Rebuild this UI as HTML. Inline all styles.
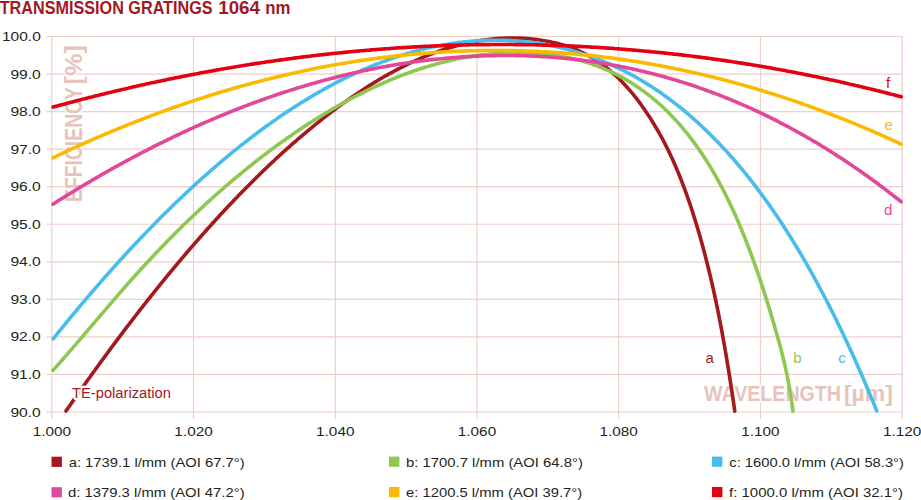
<!DOCTYPE html>
<html><head><meta charset="utf-8"><style>
html,body{margin:0;padding:0;background:#fff;}
body{width:921px;height:500px;overflow:hidden;position:relative;}
svg{position:absolute;left:0;top:0;display:block;}
text{font-family:"Liberation Sans",sans-serif;}
</style></head><body>
<svg width="921" height="500" viewBox="0 0 921 500">
<defs><clipPath id="pc"><rect x="0" y="20" width="921" height="392.6"/></clipPath></defs>
<g font-size="18.4" font-weight="bold" fill="#a01a1f"><text x="-0.3" y="13.9" textLength="212.9" lengthAdjust="spacingAndGlyphs">TRANSMISSION GRATINGS</text><text x="218.2" y="13.9" textLength="41.8" lengthAdjust="spacingAndGlyphs">1064</text><text x="265.3" y="13.9" textLength="25.2" lengthAdjust="spacingAndGlyphs">nm</text></g>
<path d="M46.2 36.50H902.20 M46.2 74.05H902.20 M46.2 111.60H902.20 M46.2 149.15H902.20 M46.2 186.70H902.20 M46.2 224.25H902.20 M46.2 261.80H902.20 M46.2 299.35H902.20 M46.2 336.90H902.20 M46.2 374.45H902.20 M46.2 412.00H902.20 M51.80 36.50V419 M193.53 36.50V419 M335.27 36.50V419 M477.00 36.50V419 M618.73 36.50V419 M760.47 36.50V419 M902.20 36.50V419" stroke="#eed0c9" stroke-width="1.2" fill="none"/>
<g font-weight="bold" fill="#e6c4bc" stroke="#fff" stroke-width="2.6" paint-order="stroke" font-size="23.5"><g transform="translate(82.3,200) rotate(-90)"><text x="-2" y="0" textLength="115" lengthAdjust="spacingAndGlyphs">EFFICIENCY</text><text x="115.6" y="0" textLength="39.4" lengthAdjust="spacingAndGlyphs">[%]</text></g><text x="704" y="401" font-size="21.5" textLength="137" lengthAdjust="spacingAndGlyphs">WAVELENGTH</text><text x="843.9" y="401" font-size="21.5" textLength="48.9" lengthAdjust="spacingAndGlyphs">[µm]</text></g>
<text x="40.8" y="41.00" font-size="12.5" fill="#231f20" text-anchor="end" textLength="38.8" lengthAdjust="spacingAndGlyphs">100.0</text>
<text x="40.8" y="78.55" font-size="12.5" fill="#231f20" text-anchor="end" textLength="30.4" lengthAdjust="spacingAndGlyphs">99.0</text>
<text x="40.8" y="116.10" font-size="12.5" fill="#231f20" text-anchor="end" textLength="30.4" lengthAdjust="spacingAndGlyphs">98.0</text>
<text x="40.8" y="153.65" font-size="12.5" fill="#231f20" text-anchor="end" textLength="30.4" lengthAdjust="spacingAndGlyphs">97.0</text>
<text x="40.8" y="191.20" font-size="12.5" fill="#231f20" text-anchor="end" textLength="30.4" lengthAdjust="spacingAndGlyphs">96.0</text>
<text x="40.8" y="228.75" font-size="12.5" fill="#231f20" text-anchor="end" textLength="30.4" lengthAdjust="spacingAndGlyphs">95.0</text>
<text x="40.8" y="266.30" font-size="12.5" fill="#231f20" text-anchor="end" textLength="30.4" lengthAdjust="spacingAndGlyphs">94.0</text>
<text x="40.8" y="303.85" font-size="12.5" fill="#231f20" text-anchor="end" textLength="30.4" lengthAdjust="spacingAndGlyphs">93.0</text>
<text x="40.8" y="341.40" font-size="12.5" fill="#231f20" text-anchor="end" textLength="30.4" lengthAdjust="spacingAndGlyphs">92.0</text>
<text x="40.8" y="378.95" font-size="12.5" fill="#231f20" text-anchor="end" textLength="30.4" lengthAdjust="spacingAndGlyphs">91.0</text>
<text x="40.8" y="416.50" font-size="12.5" fill="#231f20" text-anchor="end" textLength="30.4" lengthAdjust="spacingAndGlyphs">90.0</text>
<text x="51.80" y="436" font-size="12.5" fill="#231f20" text-anchor="middle" textLength="38.3" lengthAdjust="spacingAndGlyphs">1.000</text>
<text x="193.53" y="436" font-size="12.5" fill="#231f20" text-anchor="middle" textLength="38.3" lengthAdjust="spacingAndGlyphs">1.020</text>
<text x="335.27" y="436" font-size="12.5" fill="#231f20" text-anchor="middle" textLength="38.3" lengthAdjust="spacingAndGlyphs">1.040</text>
<text x="477.00" y="436" font-size="12.5" fill="#231f20" text-anchor="middle" textLength="38.3" lengthAdjust="spacingAndGlyphs">1.060</text>
<text x="618.73" y="436" font-size="12.5" fill="#231f20" text-anchor="middle" textLength="38.3" lengthAdjust="spacingAndGlyphs">1.080</text>
<text x="760.47" y="436" font-size="12.5" fill="#231f20" text-anchor="middle" textLength="38.3" lengthAdjust="spacingAndGlyphs">1.100</text>
<text x="902.20" y="436" font-size="12.5" fill="#231f20" text-anchor="middle" textLength="38.3" lengthAdjust="spacingAndGlyphs">1.120</text>
<g fill="none" stroke-width="3.6" stroke-linecap="round" stroke-linejoin="round">
<polyline stroke="#a3191d" points="66.0,411.0 67.5,408.8 69.0,406.7 70.5,404.5 72.0,402.4 73.5,400.2 75.0,398.1 76.5,395.9 78.0,393.8 79.5,391.7 81.0,389.6 82.5,387.5 84.0,385.3 85.5,383.2 87.0,381.1 88.5,379.0 90.0,377.0 91.5,374.9 93.0,372.8 94.5,370.7 96.0,368.6 97.5,366.6 99.0,364.5 100.5,362.4 102.0,360.4 103.5,358.3 105.0,356.3 106.5,354.3 108.0,352.2 109.5,350.2 111.0,348.2 112.5,346.2 114.0,344.1 115.5,342.1 117.0,340.1 118.5,338.1 120.0,336.1 121.5,334.1 123.0,332.2 124.5,330.2 126.0,328.2 127.5,326.2 129.0,324.3 130.5,322.3 132.0,320.4 133.5,318.4 135.0,316.5 136.5,314.5 138.0,312.6 139.5,310.7 141.0,308.7 142.5,306.8 144.0,304.9 145.5,303.0 147.0,301.1 148.5,299.2 150.0,297.3 151.5,295.4 153.0,293.6 154.5,291.7 156.0,289.8 157.5,287.9 159.0,286.1 160.5,284.2 162.0,282.4 163.5,280.5 165.0,278.7 166.5,276.9 168.0,275.0 169.5,273.2 171.0,271.4 172.5,269.6 174.0,267.8 175.5,266.0 177.0,264.2 178.5,262.4 180.0,260.6 181.5,258.8 183.0,257.1 184.5,255.3 186.0,253.5 187.5,251.8 189.0,250.0 190.5,248.3 192.0,246.6 193.5,244.8 195.0,243.1 196.5,241.4 198.0,239.7 199.5,238.0 201.0,236.3 202.5,234.6 204.0,232.9 205.5,231.2 207.0,229.5 208.5,227.8 210.0,226.2 211.5,224.5 213.0,222.8 214.5,221.2 216.0,219.5 217.5,217.9 219.0,216.3 220.5,214.6 222.0,213.0 223.5,211.4 225.0,209.8 226.5,208.2 228.0,206.6 229.5,205.0 231.0,203.4 232.5,201.9 234.0,200.3 235.5,198.7 237.0,197.2 238.5,195.6 240.0,194.1 241.5,192.5 243.0,191.0 244.5,189.4 246.0,187.9 247.5,186.4 249.0,184.9 250.5,183.4 252.0,181.9 253.5,180.4 255.0,178.9 256.5,177.4 258.0,176.0 259.5,174.5 261.0,173.0 262.5,171.6 264.0,170.1 265.5,168.7 267.0,167.3 268.5,165.8 270.0,164.4 271.5,163.0 273.0,161.6 274.5,160.2 276.0,158.8 277.5,157.4 279.0,156.0 280.5,154.7 282.0,153.3 283.5,151.9 285.0,150.6 286.5,149.2 288.0,147.9 289.5,146.6 291.0,145.2 292.5,143.9 294.0,142.6 295.5,141.3 297.0,140.0 298.5,138.7 300.0,137.4 301.5,136.1 303.0,134.8 304.5,133.6 306.0,132.3 307.5,131.1 309.0,129.8 310.5,128.6 312.0,127.3 313.5,126.1 315.0,124.9 316.5,123.7 318.0,122.5 319.5,121.3 321.0,120.1 322.5,118.9 324.0,117.7 325.5,116.5 327.0,115.4 328.5,114.2 330.0,113.1 331.5,111.9 333.0,110.8 334.5,109.7 336.0,108.6 337.5,107.4 339.0,106.3 340.5,105.2 342.0,104.1 343.5,103.1 345.0,102.0 346.5,100.9 348.0,99.9 349.5,98.8 351.0,97.8 352.5,96.7 354.0,95.7 355.5,94.7 357.0,93.7 358.5,92.7 360.0,91.7 361.5,90.7 363.0,89.7 364.5,88.7 366.0,87.7 367.5,86.8 369.0,85.8 370.5,84.9 372.0,84.0 373.5,83.0 375.0,82.1 376.5,81.2 378.0,80.3 379.5,79.4 381.0,78.5 382.5,77.7 384.0,76.8 385.5,75.9 387.0,75.1 388.5,74.2 390.0,73.4 391.5,72.6 393.0,71.8 394.5,71.0 396.0,70.2 397.5,69.4 399.0,68.6 400.5,67.8 402.0,67.1 403.5,66.3 405.0,65.6 406.5,64.8 408.0,64.1 409.5,63.4 411.0,62.7 412.5,62.0 414.0,61.3 415.5,60.6 417.0,59.9 418.5,59.3 420.0,58.6 421.5,58.0 423.0,57.3 424.5,56.7 426.0,56.1 427.5,55.5 429.0,54.9 430.5,54.3 432.0,53.7 433.5,53.2 435.0,52.6 436.5,52.1 438.0,51.5 439.5,51.0 441.0,50.5 442.5,50.0 444.0,49.5 445.5,49.0 447.0,48.5 448.5,48.1 450.0,47.6 451.5,47.2 453.0,46.7 454.5,46.3 456.0,45.9 457.5,45.5 459.0,45.1 460.5,44.7 462.0,44.3 463.5,43.9 465.0,43.6 466.5,43.2 468.0,42.9 469.5,42.6 471.0,42.3 472.5,42.0 474.0,41.7 475.5,41.4 477.0,41.1 478.5,40.9 480.0,40.6 481.5,40.4 483.0,40.2 484.5,39.9 486.0,39.7 487.5,39.5 489.0,39.4 490.5,39.2 492.0,39.0 493.5,38.9 495.0,38.7 496.5,38.6 498.0,38.5 499.5,38.4 501.0,38.3 502.5,38.2 504.0,38.2 505.5,38.1 507.0,38.0 508.5,38.0 510.0,38.0 511.5,38.0 513.0,38.0 514.5,38.0 516.0,38.0 517.5,38.0 519.0,38.1 520.5,38.1 522.0,38.2 523.5,38.3 525.0,38.4 526.5,38.5 528.0,38.6 529.5,38.7 531.0,38.9 532.5,39.0 534.0,39.2 535.5,39.4 537.0,39.6 538.5,39.8 540.0,40.0 541.5,40.2 543.0,40.5 544.5,40.7 546.0,41.0 547.5,41.2 549.0,41.5 550.5,41.8 552.0,42.2 553.5,42.5 555.0,42.8 556.5,43.2 558.0,43.6 559.5,44.0 561.0,44.4 562.5,44.8 564.0,45.3 565.5,45.8 567.0,46.2 568.5,46.8 570.0,47.3 571.5,47.8 573.0,48.4 574.5,49.0 576.0,49.6 577.5,50.2 579.0,50.9 580.5,51.6 582.0,52.3 583.5,53.0 585.0,53.8 586.5,54.6 588.0,55.4 589.5,56.2 591.0,57.1 592.5,58.0 594.0,58.9 595.5,59.8 597.0,60.8 598.5,61.8 600.0,62.8 601.5,63.9 603.0,65.0 604.5,66.1 606.0,67.3 607.5,68.5 609.0,69.7 610.5,71.0 612.0,72.3 613.5,73.6 615.0,75.0 616.5,76.3 618.0,77.8 619.5,79.3 621.0,80.8 622.5,82.3 624.0,83.9 625.5,85.5 627.0,87.2 628.5,88.9 630.0,90.6 631.5,92.4 633.0,94.2 634.5,96.0 636.0,97.9 637.5,99.9 639.0,101.9 640.5,103.9 642.0,106.0 643.5,108.1 645.0,110.2 646.5,112.4 648.0,114.7 649.5,117.0 651.0,119.3 652.5,121.7 654.0,124.2 655.5,126.7 657.0,129.2 658.5,131.8 660.0,134.5 661.5,137.2 663.0,140.0 664.5,142.9 666.0,145.8 667.5,148.8 669.0,151.9 670.5,155.0 672.0,158.2 673.5,161.6 675.0,165.0 676.5,168.5 678.0,172.0 679.5,175.7 681.0,179.5 682.5,183.3 684.0,187.3 685.5,191.4 687.0,195.6 688.5,199.9 690.0,204.2 691.5,208.8 693.0,213.4 694.5,218.1 696.0,223.0 697.5,228.0 699.0,233.1 700.5,238.3 702.0,243.7 703.5,249.2 705.0,254.9 706.5,260.7 708.0,266.7 709.5,272.8 711.0,279.1 712.5,285.7 714.0,292.4 715.5,299.3 717.0,306.5 718.5,313.9 720.0,321.5 721.5,329.4 723.0,337.6 724.5,346.0 726.0,354.7 727.5,363.7 729.0,372.9 730.5,382.4 732.0,392.2 733.5,402.3 734.8,411.2"/>
<polyline stroke="#46bdec" points="53.2,338.8 54.7,337.0 56.2,335.1 57.7,333.2 59.2,331.4 60.7,329.5 62.2,327.7 63.7,325.8 65.2,324.0 66.7,322.2 68.2,320.3 69.7,318.5 71.2,316.7 72.7,314.9 74.2,313.1 75.7,311.3 77.2,309.5 78.7,307.7 80.2,305.9 81.7,304.1 83.2,302.4 84.7,300.6 86.2,298.8 87.7,297.1 89.2,295.3 90.7,293.5 92.2,291.8 93.7,290.1 95.2,288.3 96.7,286.6 98.2,284.9 99.7,283.1 101.2,281.4 102.7,279.7 104.2,278.0 105.7,276.3 107.2,274.6 108.7,272.9 110.2,271.2 111.7,269.6 113.2,267.9 114.7,266.2 116.2,264.6 117.7,262.9 119.2,261.2 120.7,259.6 122.2,258.0 123.7,256.3 125.2,254.7 126.7,253.1 128.2,251.4 129.7,249.8 131.2,248.2 132.7,246.6 134.2,245.0 135.7,243.4 137.2,241.8 138.7,240.2 140.2,238.6 141.7,237.1 143.2,235.5 144.7,233.9 146.2,232.4 147.7,230.8 149.2,229.3 150.7,227.7 152.2,226.2 153.7,224.7 155.2,223.2 156.7,221.6 158.2,220.1 159.7,218.6 161.2,217.1 162.7,215.6 164.2,214.1 165.7,212.6 167.2,211.2 168.7,209.7 170.2,208.2 171.7,206.7 173.2,205.3 174.7,203.8 176.2,202.4 177.7,201.0 179.2,199.5 180.7,198.1 182.2,196.7 183.7,195.2 185.2,193.8 186.7,192.4 188.2,191.0 189.7,189.6 191.2,188.2 192.7,186.9 194.2,185.5 195.7,184.1 197.2,182.7 198.7,181.4 200.2,180.0 201.7,178.7 203.2,177.3 204.7,176.0 206.2,174.7 207.7,173.3 209.2,172.0 210.7,170.7 212.2,169.4 213.7,168.1 215.2,166.8 216.7,165.5 218.2,164.2 219.7,162.9 221.2,161.7 222.7,160.4 224.2,159.1 225.7,157.9 227.2,156.6 228.7,155.4 230.2,154.2 231.7,152.9 233.2,151.7 234.7,150.5 236.2,149.3 237.7,148.1 239.2,146.9 240.7,145.7 242.2,144.5 243.7,143.3 245.2,142.1 246.7,141.0 248.2,139.8 249.7,138.6 251.2,137.5 252.7,136.4 254.2,135.2 255.7,134.1 257.2,133.0 258.7,131.8 260.2,130.7 261.7,129.6 263.2,128.5 264.7,127.4 266.2,126.3 267.7,125.2 269.2,124.2 270.7,123.1 272.2,122.0 273.7,121.0 275.2,119.9 276.7,118.9 278.2,117.8 279.7,116.8 281.2,115.8 282.7,114.8 284.2,113.8 285.7,112.8 287.2,111.8 288.7,110.8 290.2,109.8 291.7,108.8 293.2,107.8 294.7,106.9 296.2,105.9 297.7,104.9 299.2,104.0 300.7,103.0 302.2,102.1 303.7,101.2 305.2,100.3 306.7,99.4 308.2,98.4 309.7,97.5 311.2,96.6 312.7,95.8 314.2,94.9 315.7,94.0 317.2,93.1 318.7,92.3 320.2,91.4 321.7,90.6 323.2,89.7 324.7,88.9 326.2,88.1 327.7,87.2 329.2,86.4 330.7,85.6 332.2,84.8 333.7,84.0 335.2,83.2 336.7,82.4 338.2,81.7 339.7,80.9 341.2,80.1 342.7,79.4 344.2,78.6 345.7,77.9 347.2,77.2 348.7,76.4 350.2,75.7 351.7,75.0 353.2,74.3 354.7,73.6 356.2,72.9 357.7,72.2 359.2,71.5 360.7,70.9 362.2,70.2 363.7,69.5 365.2,68.9 366.7,68.3 368.2,67.6 369.7,67.0 371.2,66.4 372.7,65.7 374.2,65.1 375.7,64.5 377.2,63.9 378.7,63.4 380.2,62.8 381.7,62.2 383.2,61.6 384.7,61.1 386.2,60.5 387.7,60.0 389.2,59.4 390.7,58.9 392.2,58.4 393.7,57.9 395.2,57.4 396.7,56.9 398.2,56.4 399.7,55.9 401.2,55.4 402.7,54.9 404.2,54.5 405.7,54.0 407.2,53.5 408.7,53.1 410.2,52.7 411.7,52.2 413.2,51.8 414.7,51.4 416.2,51.0 417.7,50.6 419.2,50.2 420.7,49.8 422.2,49.4 423.7,49.1 425.2,48.7 426.7,48.3 428.2,48.0 429.7,47.7 431.2,47.3 432.7,47.0 434.2,46.7 435.7,46.4 437.2,46.1 438.7,45.8 440.2,45.5 441.7,45.2 443.2,44.9 444.7,44.7 446.2,44.4 447.7,44.2 449.2,43.9 450.7,43.7 452.2,43.4 453.7,43.2 455.2,43.0 456.7,42.8 458.2,42.6 459.7,42.4 461.2,42.2 462.7,42.1 464.2,41.9 465.7,41.7 467.2,41.6 468.7,41.4 470.2,41.3 471.7,41.2 473.2,41.1 474.7,40.9 476.2,40.8 477.7,40.7 479.2,40.6 480.7,40.6 482.2,40.5 483.7,40.4 485.2,40.4 486.7,40.3 488.2,40.3 489.7,40.2 491.2,40.2 492.7,40.2 494.2,40.2 495.7,40.2 497.2,40.2 498.7,40.2 500.2,40.2 501.7,40.2 503.2,40.3 504.7,40.3 506.2,40.4 507.7,40.4 509.2,40.5 510.7,40.6 512.2,40.7 513.7,40.7 515.2,40.8 516.7,41.0 518.2,41.1 519.7,41.2 521.2,41.3 522.7,41.5 524.2,41.6 525.7,41.8 527.2,41.9 528.7,42.1 530.2,42.3 531.7,42.5 533.2,42.7 534.7,42.9 536.2,43.1 537.7,43.3 539.2,43.5 540.7,43.8 542.2,44.0 543.7,44.3 545.2,44.5 546.7,44.8 548.2,45.1 549.7,45.4 551.2,45.7 552.7,46.0 554.2,46.3 555.7,46.6 557.2,46.9 558.7,47.3 560.2,47.6 561.7,48.0 563.2,48.3 564.7,48.7 566.2,49.1 567.7,49.5 569.2,49.9 570.7,50.3 572.2,50.7 573.7,51.1 575.2,51.6 576.7,52.0 578.2,52.5 579.7,52.9 581.2,53.4 582.7,53.9 584.2,54.3 585.7,54.8 587.2,55.3 588.7,55.9 590.2,56.4 591.7,56.9 593.2,57.5 594.7,58.0 596.2,58.6 597.7,59.1 599.2,59.7 600.7,60.3 602.2,60.9 603.7,61.5 605.2,62.2 606.7,62.8 608.2,63.4 609.7,64.1 611.2,64.8 612.7,65.4 614.2,66.1 615.7,66.8 617.2,67.5 618.7,68.2 620.2,69.0 621.7,69.7 623.2,70.4 624.7,71.2 626.2,72.0 627.7,72.8 629.2,73.5 630.7,74.4 632.2,75.2 633.7,76.0 635.2,76.8 636.7,77.7 638.2,78.5 639.7,79.4 641.2,80.3 642.7,81.2 644.2,82.1 645.7,83.0 647.2,83.9 648.7,84.9 650.2,85.8 651.7,86.8 653.2,87.8 654.7,88.8 656.2,89.8 657.7,90.8 659.2,91.8 660.7,92.8 662.2,93.9 663.7,95.0 665.2,96.0 666.7,97.1 668.2,98.2 669.7,99.3 671.2,100.5 672.7,101.6 674.2,102.8 675.7,103.9 677.2,105.1 678.7,106.3 680.2,107.5 681.7,108.7 683.2,109.9 684.7,111.2 686.2,112.4 687.7,113.7 689.2,115.0 690.7,116.3 692.2,117.6 693.7,118.9 695.2,120.3 696.7,121.6 698.2,123.0 699.7,124.4 701.2,125.8 702.7,127.2 704.2,128.6 705.7,130.0 707.2,131.5 708.7,132.9 710.2,134.4 711.7,135.9 713.2,137.4 714.7,138.9 716.2,140.5 717.7,142.0 719.2,143.6 720.7,145.2 722.2,146.8 723.7,148.4 725.2,150.0 726.7,151.6 728.2,153.3 729.7,155.0 731.2,156.7 732.7,158.4 734.2,160.1 735.7,161.8 737.2,163.6 738.7,165.3 740.2,167.1 741.7,168.9 743.2,170.7 744.7,172.6 746.2,174.4 747.7,176.3 749.2,178.2 750.7,180.1 752.2,182.0 753.7,183.9 755.2,185.9 756.7,187.9 758.2,189.8 759.7,191.8 761.2,193.9 762.7,195.9 764.2,198.0 765.7,200.0 767.2,202.1 768.7,204.3 770.2,206.4 771.7,208.5 773.2,210.7 774.7,212.9 776.2,215.1 777.7,217.3 779.2,219.6 780.7,221.8 782.2,224.1 783.7,226.4 785.2,228.7 786.7,231.1 788.2,233.4 789.7,235.8 791.2,238.2 792.7,240.6 794.2,243.1 795.7,245.5 797.2,248.0 798.7,250.5 800.2,253.0 801.7,255.6 803.2,258.1 804.7,260.7 806.2,263.3 807.7,265.9 809.2,268.6 810.7,271.2 812.2,273.9 813.7,276.6 815.2,279.3 816.7,282.1 818.2,284.9 819.7,287.6 821.2,290.5 822.7,293.3 824.2,296.2 825.7,299.0 827.2,301.9 828.7,304.9 830.2,307.8 831.7,310.8 833.2,313.8 834.7,316.8 836.2,319.8 837.7,322.9 839.2,326.0 840.7,329.1 842.2,332.2 843.7,335.3 845.2,338.5 846.7,341.7 848.2,344.9 849.7,348.2 851.2,351.5 852.7,354.8 854.2,358.1 855.7,361.4 857.2,364.8 858.7,368.2 860.2,371.6 861.7,375.0 863.2,378.5 864.7,382.0 866.2,385.5 867.7,389.0 869.2,392.6 870.7,396.2 872.2,399.8 873.7,403.4 875.2,407.1 876.7,410.8 876.8,411.0"/>
<polyline stroke="#8ec751" points="53.0,370.3 54.5,368.6 56.0,366.9 57.5,365.3 59.0,363.6 60.5,361.9 62.0,360.2 63.5,358.5 65.0,356.8 66.5,355.1 68.0,353.3 69.5,351.6 71.0,349.9 72.5,348.2 74.0,346.4 75.5,344.7 77.0,342.9 78.5,341.2 80.0,339.4 81.5,337.7 83.0,335.9 84.5,334.2 86.0,332.4 87.5,330.7 89.0,328.9 90.5,327.2 92.0,325.4 93.5,323.6 95.0,321.9 96.5,320.1 98.0,318.4 99.5,316.6 101.0,314.8 102.5,313.1 104.0,311.3 105.5,309.6 107.0,307.8 108.5,306.1 110.0,304.3 111.5,302.6 113.0,300.8 114.5,299.1 116.0,297.4 117.5,295.6 119.0,293.9 120.5,292.2 122.0,290.5 123.5,288.7 125.0,287.0 126.5,285.3 128.0,283.6 129.5,281.9 131.0,280.2 132.5,278.6 134.0,276.9 135.5,275.2 137.0,273.6 138.5,271.9 140.0,270.2 141.5,268.6 143.0,267.0 144.5,265.3 146.0,263.7 147.5,262.1 149.0,260.5 150.5,258.9 152.0,257.3 153.5,255.7 155.0,254.1 156.5,252.5 158.0,250.9 159.5,249.4 161.0,247.8 162.5,246.2 164.0,244.7 165.5,243.2 167.0,241.6 168.5,240.1 170.0,238.6 171.5,237.0 173.0,235.5 174.5,234.0 176.0,232.5 177.5,231.0 179.0,229.5 180.5,228.1 182.0,226.6 183.5,225.1 185.0,223.7 186.5,222.2 188.0,220.7 189.5,219.3 191.0,217.9 192.5,216.4 194.0,215.0 195.5,213.6 197.0,212.2 198.5,210.8 200.0,209.4 201.5,208.0 203.0,206.6 204.5,205.2 206.0,203.8 207.5,202.4 209.0,201.1 210.5,199.7 212.0,198.4 213.5,197.0 215.0,195.7 216.5,194.3 218.0,193.0 219.5,191.7 221.0,190.4 222.5,189.1 224.0,187.7 225.5,186.4 227.0,185.2 228.5,183.9 230.0,182.6 231.5,181.3 233.0,180.0 234.5,178.8 236.0,177.5 237.5,176.3 239.0,175.0 240.5,173.8 242.0,172.6 243.5,171.3 245.0,170.1 246.5,168.9 248.0,167.7 249.5,166.5 251.0,165.3 252.5,164.1 254.0,162.9 255.5,161.7 257.0,160.5 258.5,159.4 260.0,158.2 261.5,157.1 263.0,155.9 264.5,154.8 266.0,153.6 267.5,152.5 269.0,151.4 270.5,150.2 272.0,149.1 273.5,148.0 275.0,146.9 276.5,145.8 278.0,144.7 279.5,143.6 281.0,142.6 282.5,141.5 284.0,140.4 285.5,139.4 287.0,138.3 288.5,137.2 290.0,136.2 291.5,135.2 293.0,134.1 294.5,133.1 296.0,132.1 297.5,131.1 299.0,130.0 300.5,129.0 302.0,128.0 303.5,127.0 305.0,126.1 306.5,125.1 308.0,124.1 309.5,123.1 311.0,122.2 312.5,121.2 314.0,120.3 315.5,119.3 317.0,118.4 318.5,117.4 320.0,116.5 321.5,115.6 323.0,114.7 324.5,113.8 326.0,112.9 327.5,112.0 329.0,111.1 330.5,110.2 332.0,109.3 333.5,108.4 335.0,107.6 336.5,106.7 338.0,105.8 339.5,105.0 341.0,104.1 342.5,103.3 344.0,102.5 345.5,101.7 347.0,100.8 348.5,100.0 350.0,99.2 351.5,98.4 353.0,97.6 354.5,96.8 356.0,96.1 357.5,95.3 359.0,94.5 360.5,93.8 362.0,93.0 363.5,92.3 365.0,91.5 366.5,90.8 368.0,90.0 369.5,89.3 371.0,88.6 372.5,87.9 374.0,87.2 375.5,86.5 377.0,85.8 378.5,85.1 380.0,84.5 381.5,83.8 383.0,83.1 384.5,82.5 386.0,81.8 387.5,81.2 389.0,80.5 390.5,79.9 392.0,79.3 393.5,78.7 395.0,78.1 396.5,77.5 398.0,76.9 399.5,76.3 401.0,75.7 402.5,75.1 404.0,74.5 405.5,74.0 407.0,73.4 408.5,72.9 410.0,72.3 411.5,71.8 413.0,71.3 414.5,70.8 416.0,70.3 417.5,69.7 419.0,69.3 420.5,68.8 422.0,68.3 423.5,67.8 425.0,67.3 426.5,66.9 428.0,66.4 429.5,66.0 431.0,65.5 432.5,65.1 434.0,64.7 435.5,64.2 437.0,63.8 438.5,63.4 440.0,63.0 441.5,62.6 443.0,62.2 444.5,61.9 446.0,61.5 447.5,61.1 449.0,60.8 450.5,60.4 452.0,60.1 453.5,59.8 455.0,59.4 456.5,59.1 458.0,58.8 459.5,58.5 461.0,58.2 462.5,57.9 464.0,57.6 465.5,57.4 467.0,57.1 468.5,56.9 470.0,56.6 471.5,56.4 473.0,56.1 474.5,55.9 476.0,55.7 477.5,55.5 479.0,55.3 480.5,55.1 482.0,54.9 483.5,54.7 485.0,54.5 486.5,54.4 488.0,54.2 489.5,54.0 491.0,53.9 492.5,53.8 494.0,53.6 495.5,53.5 497.0,53.4 498.5,53.3 500.0,53.2 501.5,53.1 503.0,53.0 504.5,53.0 506.0,52.9 507.5,52.9 509.0,52.8 510.5,52.8 512.0,52.7 513.5,52.7 515.0,52.7 516.5,52.7 518.0,52.7 519.5,52.7 521.0,52.7 522.5,52.7 524.0,52.8 525.5,52.8 527.0,52.9 528.5,52.9 530.0,53.0 531.5,53.1 533.0,53.1 534.5,53.2 536.0,53.3 537.5,53.4 539.0,53.5 540.5,53.7 542.0,53.8 543.5,53.9 545.0,54.1 546.5,54.3 548.0,54.4 549.5,54.6 551.0,54.8 552.5,55.0 554.0,55.2 555.5,55.4 557.0,55.6 558.5,55.9 560.0,56.1 561.5,56.4 563.0,56.6 564.5,56.9 566.0,57.2 567.5,57.5 569.0,57.8 570.5,58.1 572.0,58.5 573.5,58.8 575.0,59.2 576.5,59.5 578.0,59.9 579.5,60.3 581.0,60.7 582.5,61.1 584.0,61.6 585.5,62.0 587.0,62.5 588.5,62.9 590.0,63.4 591.5,63.9 593.0,64.5 594.5,65.0 596.0,65.5 597.5,66.1 599.0,66.7 600.5,67.2 602.0,67.8 603.5,68.5 605.0,69.1 606.5,69.8 608.0,70.4 609.5,71.1 611.0,71.8 612.5,72.5 614.0,73.2 615.5,74.0 617.0,74.7 618.5,75.5 620.0,76.3 621.5,77.1 623.0,78.0 624.5,78.8 626.0,79.7 627.5,80.6 629.0,81.5 630.5,82.4 632.0,83.3 633.5,84.3 635.0,85.3 636.5,86.3 638.0,87.3 639.5,88.3 641.0,89.4 642.5,90.4 644.0,91.5 645.5,92.6 647.0,93.8 648.5,94.9 650.0,96.1 651.5,97.3 653.0,98.5 654.5,99.8 656.0,101.0 657.5,102.3 659.0,103.7 660.5,105.0 662.0,106.4 663.5,107.8 665.0,109.2 666.5,110.6 668.0,112.1 669.5,113.6 671.0,115.2 672.5,116.7 674.0,118.3 675.5,119.9 677.0,121.6 678.5,123.3 680.0,125.0 681.5,126.7 683.0,128.5 684.5,130.3 686.0,132.1 687.5,134.0 689.0,135.9 690.5,137.8 692.0,139.8 693.5,141.8 695.0,143.9 696.5,145.9 698.0,148.1 699.5,150.2 701.0,152.4 702.5,154.6 704.0,156.9 705.5,159.2 707.0,161.6 708.5,164.0 710.0,166.4 711.5,168.9 713.0,171.4 714.5,174.0 716.0,176.7 717.5,179.3 719.0,182.1 720.5,184.8 722.0,187.7 723.5,190.5 725.0,193.5 726.5,196.5 728.0,199.5 729.5,202.6 731.0,205.8 732.5,209.0 734.0,212.3 735.5,215.6 737.0,219.0 738.5,222.5 740.0,226.0 741.5,229.6 743.0,233.2 744.5,236.9 746.0,240.7 747.5,244.6 749.0,248.5 750.5,252.5 752.0,256.5 753.5,260.7 755.0,264.9 756.5,269.1 758.0,273.5 759.5,277.9 761.0,282.4 762.5,287.0 764.0,291.6 765.5,296.3 767.0,301.1 768.5,306.0 770.0,310.9 771.5,315.9 773.0,321.0 774.5,326.2 776.0,331.4 777.5,336.7 779.0,342.1 780.5,347.6 782.0,353.3 783.5,359.3 785.0,365.7 786.5,372.6 788.0,380.1 789.5,388.4 791.0,397.5 792.5,407.6 793.0,411.2"/>
<polyline stroke="#e2479a" points="53.0,204.1 54.5,203.2 56.0,202.2 57.5,201.3 59.0,200.3 60.5,199.4 62.0,198.5 63.5,197.5 65.0,196.6 66.5,195.7 68.0,194.7 69.5,193.8 71.0,192.9 72.5,192.0 74.0,191.1 75.5,190.1 77.0,189.2 78.5,188.3 80.0,187.4 81.5,186.5 83.0,185.6 84.5,184.7 86.0,183.8 87.5,183.0 89.0,182.1 90.5,181.2 92.0,180.3 93.5,179.4 95.0,178.6 96.5,177.7 98.0,176.8 99.5,176.0 101.0,175.1 102.5,174.2 104.0,173.4 105.5,172.5 107.0,171.7 108.5,170.8 110.0,170.0 111.5,169.1 113.0,168.3 114.5,167.5 116.0,166.6 117.5,165.8 119.0,165.0 120.5,164.1 122.0,163.3 123.5,162.5 125.0,161.7 126.5,160.9 128.0,160.1 129.5,159.3 131.0,158.5 132.5,157.7 134.0,156.9 135.5,156.1 137.0,155.3 138.5,154.5 140.0,153.7 141.5,152.9 143.0,152.1 144.5,151.3 146.0,150.6 147.5,149.8 149.0,149.0 150.5,148.3 152.0,147.5 153.5,146.7 155.0,146.0 156.5,145.2 158.0,144.5 159.5,143.7 161.0,143.0 162.5,142.3 164.0,141.5 165.5,140.8 167.0,140.0 168.5,139.3 170.0,138.6 171.5,137.9 173.0,137.1 174.5,136.4 176.0,135.7 177.5,135.0 179.0,134.3 180.5,133.6 182.0,132.9 183.5,132.2 185.0,131.5 186.5,130.8 188.0,130.1 189.5,129.4 191.0,128.7 192.5,128.1 194.0,127.4 195.5,126.7 197.0,126.0 198.5,125.4 200.0,124.7 201.5,124.0 203.0,123.4 204.5,122.7 206.0,122.1 207.5,121.4 209.0,120.8 210.5,120.1 212.0,119.5 213.5,118.8 215.0,118.2 216.5,117.6 218.0,116.9 219.5,116.3 221.0,115.7 222.5,115.1 224.0,114.5 225.5,113.8 227.0,113.2 228.5,112.6 230.0,112.0 231.5,111.4 233.0,110.8 234.5,110.2 236.0,109.6 237.5,109.0 239.0,108.5 240.5,107.9 242.0,107.3 243.5,106.7 245.0,106.1 246.5,105.6 248.0,105.0 249.5,104.4 251.0,103.9 252.5,103.3 254.0,102.8 255.5,102.2 257.0,101.7 258.5,101.1 260.0,100.6 261.5,100.0 263.0,99.5 264.5,99.0 266.0,98.4 267.5,97.9 269.0,97.4 270.5,96.9 272.0,96.4 273.5,95.8 275.0,95.3 276.5,94.8 278.0,94.3 279.5,93.8 281.0,93.3 282.5,92.8 284.0,92.3 285.5,91.8 287.0,91.4 288.5,90.9 290.0,90.4 291.5,89.9 293.0,89.4 294.5,89.0 296.0,88.5 297.5,88.0 299.0,87.6 300.5,87.1 302.0,86.7 303.5,86.2 305.0,85.8 306.5,85.3 308.0,84.9 309.5,84.4 311.0,84.0 312.5,83.6 314.0,83.2 315.5,82.7 317.0,82.3 318.5,81.9 320.0,81.5 321.5,81.1 323.0,80.6 324.5,80.2 326.0,79.8 327.5,79.4 329.0,79.0 330.5,78.7 332.0,78.3 333.5,77.9 335.0,77.5 336.5,77.1 338.0,76.7 339.5,76.4 341.0,76.0 342.5,75.6 344.0,75.3 345.5,74.9 347.0,74.5 348.5,74.2 350.0,73.8 351.5,73.5 353.0,73.1 354.5,72.8 356.0,72.5 357.5,72.1 359.0,71.8 360.5,71.5 362.0,71.1 363.5,70.8 365.0,70.5 366.5,70.2 368.0,69.9 369.5,69.6 371.0,69.3 372.5,69.0 374.0,68.7 375.5,68.4 377.0,68.1 378.5,67.8 380.0,67.5 381.5,67.2 383.0,66.9 384.5,66.7 386.0,66.4 387.5,66.1 389.0,65.9 390.5,65.6 392.0,65.3 393.5,65.1 395.0,64.8 396.5,64.6 398.0,64.3 399.5,64.1 401.0,63.9 402.5,63.6 404.0,63.4 405.5,63.2 407.0,62.9 408.5,62.7 410.0,62.5 411.5,62.3 413.0,62.1 414.5,61.8 416.0,61.6 417.5,61.4 419.0,61.2 420.5,61.0 422.0,60.9 423.5,60.7 425.0,60.5 426.5,60.3 428.0,60.1 429.5,59.9 431.0,59.8 432.5,59.6 434.0,59.4 435.5,59.3 437.0,59.1 438.5,59.0 440.0,58.8 441.5,58.7 443.0,58.5 444.5,58.4 446.0,58.2 447.5,58.1 449.0,58.0 450.5,57.8 452.0,57.7 453.5,57.6 455.0,57.5 456.5,57.4 458.0,57.2 459.5,57.1 461.0,57.0 462.5,56.9 464.0,56.8 465.5,56.7 467.0,56.6 468.5,56.6 470.0,56.5 471.5,56.4 473.0,56.3 474.5,56.2 476.0,56.2 477.5,56.1 479.0,56.0 480.5,56.0 482.0,55.9 483.5,55.9 485.0,55.8 486.5,55.8 488.0,55.7 489.5,55.7 491.0,55.7 492.5,55.6 494.0,55.6 495.5,55.6 497.0,55.5 498.5,55.5 500.0,55.5 501.5,55.5 503.0,55.5 504.5,55.5 506.0,55.5 507.5,55.5 509.0,55.5 510.5,55.5 512.0,55.5 513.5,55.5 515.0,55.6 516.5,55.6 518.0,55.6 519.5,55.6 521.0,55.7 522.5,55.7 524.0,55.8 525.5,55.8 527.0,55.9 528.5,55.9 530.0,56.0 531.5,56.0 533.0,56.1 534.5,56.2 536.0,56.2 537.5,56.3 539.0,56.4 540.5,56.5 542.0,56.6 543.5,56.6 545.0,56.7 546.5,56.8 548.0,56.9 549.5,57.0 551.0,57.1 552.5,57.3 554.0,57.4 555.5,57.5 557.0,57.6 558.5,57.8 560.0,57.9 561.5,58.0 563.0,58.2 564.5,58.3 566.0,58.4 567.5,58.6 569.0,58.8 570.5,58.9 572.0,59.1 573.5,59.2 575.0,59.4 576.5,59.6 578.0,59.8 579.5,59.9 581.0,60.1 582.5,60.3 584.0,60.5 585.5,60.7 587.0,60.9 588.5,61.1 590.0,61.3 591.5,61.5 593.0,61.8 594.5,62.0 596.0,62.2 597.5,62.4 599.0,62.7 600.5,62.9 602.0,63.2 603.5,63.4 605.0,63.7 606.5,63.9 608.0,64.2 609.5,64.4 611.0,64.7 612.5,65.0 614.0,65.2 615.5,65.5 617.0,65.8 618.5,66.1 620.0,66.4 621.5,66.7 623.0,67.0 624.5,67.3 626.0,67.6 627.5,67.9 629.0,68.2 630.5,68.5 632.0,68.8 633.5,69.2 635.0,69.5 636.5,69.8 638.0,70.2 639.5,70.5 641.0,70.9 642.5,71.2 644.0,71.6 645.5,72.0 647.0,72.3 648.5,72.7 650.0,73.1 651.5,73.4 653.0,73.8 654.5,74.2 656.0,74.6 657.5,75.0 659.0,75.4 660.5,75.8 662.0,76.2 663.5,76.6 665.0,77.0 666.5,77.5 668.0,77.9 669.5,78.3 671.0,78.8 672.5,79.2 674.0,79.6 675.5,80.1 677.0,80.5 678.5,81.0 680.0,81.5 681.5,81.9 683.0,82.4 684.5,82.9 686.0,83.3 687.5,83.8 689.0,84.3 690.5,84.8 692.0,85.3 693.5,85.8 695.0,86.3 696.5,86.8 698.0,87.3 699.5,87.9 701.0,88.4 702.5,88.9 704.0,89.4 705.5,90.0 707.0,90.5 708.5,91.1 710.0,91.6 711.5,92.2 713.0,92.7 714.5,93.3 716.0,93.9 717.5,94.4 719.0,95.0 720.5,95.6 722.0,96.2 723.5,96.8 725.0,97.4 726.5,98.0 728.0,98.6 729.5,99.2 731.0,99.8 732.5,100.4 734.0,101.1 735.5,101.7 737.0,102.3 738.5,103.0 740.0,103.6 741.5,104.3 743.0,104.9 744.5,105.6 746.0,106.2 747.5,106.9 749.0,107.6 750.5,108.2 752.0,108.9 753.5,109.6 755.0,110.3 756.5,111.0 758.0,111.7 759.5,112.4 761.0,113.1 762.5,113.8 764.0,114.5 765.5,115.3 767.0,116.0 768.5,116.7 770.0,117.5 771.5,118.2 773.0,119.0 774.5,119.7 776.0,120.5 777.5,121.2 779.0,122.0 780.5,122.8 782.0,123.6 783.5,124.4 785.0,125.1 786.5,125.9 788.0,126.7 789.5,127.5 791.0,128.3 792.5,129.2 794.0,130.0 795.5,130.8 797.0,131.6 798.5,132.5 800.0,133.3 801.5,134.1 803.0,135.0 804.5,135.8 806.0,136.7 807.5,137.6 809.0,138.4 810.5,139.3 812.0,140.2 813.5,141.1 815.0,141.9 816.5,142.8 818.0,143.7 819.5,144.6 821.0,145.6 822.5,146.5 824.0,147.4 825.5,148.3 827.0,149.2 828.5,150.2 830.0,151.1 831.5,152.1 833.0,153.0 834.5,154.0 836.0,154.9 837.5,155.9 839.0,156.9 840.5,157.8 842.0,158.8 843.5,159.8 845.0,160.8 846.5,161.8 848.0,162.8 849.5,163.8 851.0,164.8 852.5,165.8 854.0,166.9 855.5,167.9 857.0,168.9 858.5,170.0 860.0,171.0 861.5,172.0 863.0,173.1 864.5,174.2 866.0,175.2 867.5,176.3 869.0,177.4 870.5,178.5 872.0,179.5 873.5,180.6 875.0,181.7 876.5,182.8 878.0,183.9 879.5,185.1 881.0,186.2 882.5,187.3 884.0,188.4 885.5,189.6 887.0,190.7 888.5,191.8 890.0,193.0 891.5,194.2 893.0,195.3 894.5,196.5 896.0,197.7 897.5,198.8 899.0,200.0 900.5,201.2 901.2,201.8"/>
<polyline stroke="#fbba00" points="53.0,157.8 54.5,157.1 56.0,156.4 57.5,155.6 59.0,154.9 60.5,154.2 62.0,153.5 63.5,152.8 65.0,152.1 66.5,151.4 68.0,150.7 69.5,150.0 71.0,149.3 72.5,148.6 74.0,147.9 75.5,147.3 77.0,146.6 78.5,145.9 80.0,145.2 81.5,144.5 83.0,143.9 84.5,143.2 86.0,142.5 87.5,141.9 89.0,141.2 90.5,140.5 92.0,139.9 93.5,139.2 95.0,138.6 96.5,137.9 98.0,137.2 99.5,136.6 101.0,136.0 102.5,135.3 104.0,134.7 105.5,134.0 107.0,133.4 108.5,132.8 110.0,132.1 111.5,131.5 113.0,130.9 114.5,130.3 116.0,129.6 117.5,129.0 119.0,128.4 120.5,127.8 122.0,127.2 123.5,126.6 125.0,126.0 126.5,125.3 128.0,124.7 129.5,124.1 131.0,123.5 132.5,123.0 134.0,122.4 135.5,121.8 137.0,121.2 138.5,120.6 140.0,120.0 141.5,119.4 143.0,118.9 144.5,118.3 146.0,117.7 147.5,117.1 149.0,116.6 150.5,116.0 152.0,115.4 153.5,114.9 155.0,114.3 156.5,113.8 158.0,113.2 159.5,112.6 161.0,112.1 162.5,111.6 164.0,111.0 165.5,110.5 167.0,109.9 168.5,109.4 170.0,108.9 171.5,108.3 173.0,107.8 174.5,107.3 176.0,106.7 177.5,106.2 179.0,105.7 180.5,105.2 182.0,104.7 183.5,104.1 185.0,103.6 186.5,103.1 188.0,102.6 189.5,102.1 191.0,101.6 192.5,101.1 194.0,100.6 195.5,100.1 197.0,99.6 198.5,99.1 200.0,98.7 201.5,98.2 203.0,97.7 204.5,97.2 206.0,96.7 207.5,96.3 209.0,95.8 210.5,95.3 212.0,94.8 213.5,94.4 215.0,93.9 216.5,93.5 218.0,93.0 219.5,92.5 221.0,92.1 222.5,91.6 224.0,91.2 225.5,90.7 227.0,90.3 228.5,89.9 230.0,89.4 231.5,89.0 233.0,88.5 234.5,88.1 236.0,87.7 237.5,87.3 239.0,86.8 240.5,86.4 242.0,86.0 243.5,85.6 245.0,85.2 246.5,84.8 248.0,84.3 249.5,83.9 251.0,83.5 252.5,83.1 254.0,82.7 255.5,82.3 257.0,81.9 258.5,81.5 260.0,81.2 261.5,80.8 263.0,80.4 264.5,80.0 266.0,79.6 267.5,79.2 269.0,78.9 270.5,78.5 272.0,78.1 273.5,77.8 275.0,77.4 276.5,77.0 278.0,76.7 279.5,76.3 281.0,75.9 282.5,75.6 284.0,75.2 285.5,74.9 287.0,74.6 288.5,74.2 290.0,73.9 291.5,73.5 293.0,73.2 294.5,72.9 296.0,72.5 297.5,72.2 299.0,71.9 300.5,71.5 302.0,71.2 303.5,70.9 305.0,70.6 306.5,70.3 308.0,70.0 309.5,69.7 311.0,69.3 312.5,69.0 314.0,68.7 315.5,68.4 317.0,68.1 318.5,67.8 320.0,67.6 321.5,67.3 323.0,67.0 324.5,66.7 326.0,66.4 327.5,66.1 329.0,65.9 330.5,65.6 332.0,65.3 333.5,65.0 335.0,64.8 336.5,64.5 338.0,64.2 339.5,64.0 341.0,63.7 342.5,63.5 344.0,63.2 345.5,63.0 347.0,62.7 348.5,62.5 350.0,62.2 351.5,62.0 353.0,61.7 354.5,61.5 356.0,61.3 357.5,61.0 359.0,60.8 360.5,60.6 362.0,60.4 363.5,60.2 365.0,59.9 366.5,59.7 368.0,59.5 369.5,59.3 371.0,59.1 372.5,58.9 374.0,58.7 375.5,58.5 377.0,58.3 378.5,58.1 380.0,57.9 381.5,57.7 383.0,57.5 384.5,57.3 386.0,57.1 387.5,57.0 389.0,56.8 390.5,56.6 392.0,56.4 393.5,56.3 395.0,56.1 396.5,55.9 398.0,55.8 399.5,55.6 401.0,55.4 402.5,55.3 404.0,55.1 405.5,55.0 407.0,54.8 408.5,54.7 410.0,54.5 411.5,54.4 413.0,54.3 414.5,54.1 416.0,54.0 417.5,53.9 419.0,53.7 420.5,53.6 422.0,53.5 423.5,53.4 425.0,53.2 426.5,53.1 428.0,53.0 429.5,52.9 431.0,52.8 432.5,52.7 434.0,52.6 435.5,52.5 437.0,52.4 438.5,52.3 440.0,52.2 441.5,52.1 443.0,52.0 444.5,51.9 446.0,51.8 447.5,51.7 449.0,51.7 450.5,51.6 452.0,51.5 453.5,51.4 455.0,51.4 456.5,51.3 458.0,51.2 459.5,51.2 461.0,51.1 462.5,51.1 464.0,51.0 465.5,51.0 467.0,50.9 468.5,50.9 470.0,50.8 471.5,50.8 473.0,50.7 474.5,50.7 476.0,50.7 477.5,50.6 479.0,50.6 480.5,50.6 482.0,50.6 483.5,50.5 485.0,50.5 486.5,50.5 488.0,50.5 489.5,50.5 491.0,50.5 492.5,50.5 494.0,50.5 495.5,50.5 497.0,50.5 498.5,50.5 500.0,50.5 501.5,50.5 503.0,50.5 504.5,50.5 506.0,50.5 507.5,50.5 509.0,50.6 510.5,50.6 512.0,50.6 513.5,50.6 515.0,50.7 516.5,50.7 518.0,50.7 519.5,50.8 521.0,50.8 522.5,50.9 524.0,50.9 525.5,51.0 527.0,51.0 528.5,51.1 530.0,51.1 531.5,51.2 533.0,51.2 534.5,51.3 536.0,51.4 537.5,51.4 539.0,51.5 540.5,51.6 542.0,51.7 543.5,51.7 545.0,51.8 546.5,51.9 548.0,52.0 549.5,52.1 551.0,52.2 552.5,52.3 554.0,52.4 555.5,52.5 557.0,52.6 558.5,52.7 560.0,52.8 561.5,52.9 563.0,53.0 564.5,53.1 566.0,53.2 567.5,53.4 569.0,53.5 570.5,53.6 572.0,53.7 573.5,53.9 575.0,54.0 576.5,54.1 578.0,54.3 579.5,54.4 581.0,54.6 582.5,54.7 584.0,54.8 585.5,55.0 587.0,55.2 588.5,55.3 590.0,55.5 591.5,55.6 593.0,55.8 594.5,56.0 596.0,56.1 597.5,56.3 599.0,56.5 600.5,56.6 602.0,56.8 603.5,57.0 605.0,57.2 606.5,57.4 608.0,57.6 609.5,57.8 611.0,57.9 612.5,58.1 614.0,58.3 615.5,58.5 617.0,58.7 618.5,59.0 620.0,59.2 621.5,59.4 623.0,59.6 624.5,59.8 626.0,60.0 627.5,60.2 629.0,60.5 630.5,60.7 632.0,60.9 633.5,61.2 635.0,61.4 636.5,61.6 638.0,61.9 639.5,62.1 641.0,62.4 642.5,62.6 644.0,62.9 645.5,63.1 647.0,63.4 648.5,63.6 650.0,63.9 651.5,64.1 653.0,64.4 654.5,64.7 656.0,65.0 657.5,65.2 659.0,65.5 660.5,65.8 662.0,66.1 663.5,66.3 665.0,66.6 666.5,66.9 668.0,67.2 669.5,67.5 671.0,67.8 672.5,68.1 674.0,68.4 675.5,68.7 677.0,69.0 678.5,69.3 680.0,69.6 681.5,69.9 683.0,70.3 684.5,70.6 686.0,70.9 687.5,71.2 689.0,71.6 690.5,71.9 692.0,72.2 693.5,72.6 695.0,72.9 696.5,73.2 698.0,73.6 699.5,73.9 701.0,74.3 702.5,74.6 704.0,75.0 705.5,75.3 707.0,75.7 708.5,76.0 710.0,76.4 711.5,76.8 713.0,77.1 714.5,77.5 716.0,77.9 717.5,78.3 719.0,78.6 720.5,79.0 722.0,79.4 723.5,79.8 725.0,80.2 726.5,80.6 728.0,81.0 729.5,81.4 731.0,81.8 732.5,82.2 734.0,82.6 735.5,83.0 737.0,83.4 738.5,83.8 740.0,84.2 741.5,84.6 743.0,85.1 744.5,85.5 746.0,85.9 747.5,86.3 749.0,86.8 750.5,87.2 752.0,87.6 753.5,88.1 755.0,88.5 756.5,89.0 758.0,89.4 759.5,89.9 761.0,90.3 762.5,90.8 764.0,91.2 765.5,91.7 767.0,92.2 768.5,92.6 770.0,93.1 771.5,93.6 773.0,94.0 774.5,94.5 776.0,95.0 777.5,95.5 779.0,95.9 780.5,96.4 782.0,96.9 783.5,97.4 785.0,97.9 786.5,98.4 788.0,98.9 789.5,99.4 791.0,99.9 792.5,100.4 794.0,100.9 795.5,101.4 797.0,101.9 798.5,102.5 800.0,103.0 801.5,103.5 803.0,104.0 804.5,104.6 806.0,105.1 807.5,105.6 809.0,106.2 810.5,106.7 812.0,107.2 813.5,107.8 815.0,108.3 816.5,108.9 818.0,109.4 819.5,110.0 821.0,110.5 822.5,111.1 824.0,111.7 825.5,112.2 827.0,112.8 828.5,113.4 830.0,113.9 831.5,114.5 833.0,115.1 834.5,115.7 836.0,116.2 837.5,116.8 839.0,117.4 840.5,118.0 842.0,118.6 843.5,119.2 845.0,119.8 846.5,120.4 848.0,121.0 849.5,121.6 851.0,122.2 852.5,122.8 854.0,123.4 855.5,124.1 857.0,124.7 858.5,125.3 860.0,125.9 861.5,126.6 863.0,127.2 864.5,127.8 866.0,128.5 867.5,129.1 869.0,129.7 870.5,130.4 872.0,131.0 873.5,131.7 875.0,132.3 876.5,133.0 878.0,133.6 879.5,134.3 881.0,135.0 882.5,135.6 884.0,136.3 885.5,137.0 887.0,137.6 888.5,138.3 890.0,139.0 891.5,139.7 893.0,140.3 894.5,141.0 896.0,141.7 897.5,142.4 899.0,143.1 900.5,143.8 901.2,144.1"/>
<polyline stroke="#e30012" points="53.0,107.1 54.5,106.7 56.0,106.3 57.5,105.9 59.0,105.5 60.5,105.1 62.0,104.7 63.5,104.3 65.0,103.9 66.5,103.5 68.0,103.1 69.5,102.7 71.0,102.3 72.5,101.9 74.0,101.5 75.5,101.1 77.0,100.7 78.5,100.3 80.0,99.9 81.5,99.5 83.0,99.1 84.5,98.8 86.0,98.4 87.5,98.0 89.0,97.6 90.5,97.2 92.0,96.9 93.5,96.5 95.0,96.1 96.5,95.7 98.0,95.4 99.5,95.0 101.0,94.6 102.5,94.2 104.0,93.9 105.5,93.5 107.0,93.1 108.5,92.8 110.0,92.4 111.5,92.1 113.0,91.7 114.5,91.3 116.0,91.0 117.5,90.6 119.0,90.3 120.5,89.9 122.0,89.6 123.5,89.2 125.0,88.9 126.5,88.5 128.0,88.2 129.5,87.8 131.0,87.5 132.5,87.1 134.0,86.8 135.5,86.5 137.0,86.1 138.5,85.8 140.0,85.4 141.5,85.1 143.0,84.8 144.5,84.4 146.0,84.1 147.5,83.8 149.0,83.5 150.5,83.1 152.0,82.8 153.5,82.5 155.0,82.2 156.5,81.8 158.0,81.5 159.5,81.2 161.0,80.9 162.5,80.6 164.0,80.3 165.5,79.9 167.0,79.6 168.5,79.3 170.0,79.0 171.5,78.7 173.0,78.4 174.5,78.1 176.0,77.8 177.5,77.5 179.0,77.2 180.5,76.9 182.0,76.6 183.5,76.3 185.0,76.0 186.5,75.7 188.0,75.4 189.5,75.1 191.0,74.8 192.5,74.5 194.0,74.2 195.5,74.0 197.0,73.7 198.5,73.4 200.0,73.1 201.5,72.8 203.0,72.5 204.5,72.3 206.0,72.0 207.5,71.7 209.0,71.4 210.5,71.2 212.0,70.9 213.5,70.6 215.0,70.4 216.5,70.1 218.0,69.8 219.5,69.6 221.0,69.3 222.5,69.0 224.0,68.8 225.5,68.5 227.0,68.3 228.5,68.0 230.0,67.8 231.5,67.5 233.0,67.2 234.5,67.0 236.0,66.7 237.5,66.5 239.0,66.3 240.5,66.0 242.0,65.8 243.5,65.5 245.0,65.3 246.5,65.0 248.0,64.8 249.5,64.6 251.0,64.3 252.5,64.1 254.0,63.9 255.5,63.6 257.0,63.4 258.5,63.2 260.0,62.9 261.5,62.7 263.0,62.5 264.5,62.3 266.0,62.0 267.5,61.8 269.0,61.6 270.5,61.4 272.0,61.2 273.5,61.0 275.0,60.7 276.5,60.5 278.0,60.3 279.5,60.1 281.0,59.9 282.5,59.7 284.0,59.5 285.5,59.3 287.0,59.1 288.5,58.9 290.0,58.7 291.5,58.5 293.0,58.3 294.5,58.1 296.0,57.9 297.5,57.7 299.0,57.5 300.5,57.3 302.0,57.1 303.5,56.9 305.0,56.8 306.5,56.6 308.0,56.4 309.5,56.2 311.0,56.0 312.5,55.8 314.0,55.7 315.5,55.5 317.0,55.3 318.5,55.1 320.0,55.0 321.5,54.8 323.0,54.6 324.5,54.5 326.0,54.3 327.5,54.1 329.0,54.0 330.5,53.8 332.0,53.6 333.5,53.5 335.0,53.3 336.5,53.2 338.0,53.0 339.5,52.9 341.0,52.7 342.5,52.6 344.0,52.4 345.5,52.3 347.0,52.1 348.5,52.0 350.0,51.8 351.5,51.7 353.0,51.5 354.5,51.4 356.0,51.3 357.5,51.1 359.0,51.0 360.5,50.8 362.0,50.7 363.5,50.6 365.0,50.5 366.5,50.3 368.0,50.2 369.5,50.1 371.0,49.9 372.5,49.8 374.0,49.7 375.5,49.6 377.0,49.5 378.5,49.3 380.0,49.2 381.5,49.1 383.0,49.0 384.5,48.9 386.0,48.8 387.5,48.7 389.0,48.6 390.5,48.5 392.0,48.3 393.5,48.2 395.0,48.1 396.5,48.0 398.0,47.9 399.5,47.8 401.0,47.7 402.5,47.6 404.0,47.6 405.5,47.5 407.0,47.4 408.5,47.3 410.0,47.2 411.5,47.1 413.0,47.0 414.5,46.9 416.0,46.9 417.5,46.8 419.0,46.7 420.5,46.6 422.0,46.5 423.5,46.5 425.0,46.4 426.5,46.3 428.0,46.2 429.5,46.2 431.0,46.1 432.5,46.0 434.0,46.0 435.5,45.9 437.0,45.8 438.5,45.8 440.0,45.7 441.5,45.7 443.0,45.6 444.5,45.6 446.0,45.5 447.5,45.4 449.0,45.4 450.5,45.3 452.0,45.3 453.5,45.3 455.0,45.2 456.5,45.2 458.0,45.1 459.5,45.1 461.0,45.0 462.5,45.0 464.0,45.0 465.5,44.9 467.0,44.9 468.5,44.9 470.0,44.8 471.5,44.8 473.0,44.8 474.5,44.7 476.0,44.7 477.5,44.7 479.0,44.7 480.5,44.7 482.0,44.6 483.5,44.6 485.0,44.6 486.5,44.6 488.0,44.6 489.5,44.6 491.0,44.5 492.5,44.5 494.0,44.5 495.5,44.5 497.0,44.5 498.5,44.5 500.0,44.5 501.5,44.5 503.0,44.5 504.5,44.5 506.0,44.5 507.5,44.5 509.0,44.5 510.5,44.5 512.0,44.5 513.5,44.5 515.0,44.6 516.5,44.6 518.0,44.6 519.5,44.6 521.0,44.6 522.5,44.6 524.0,44.7 525.5,44.7 527.0,44.7 528.5,44.7 530.0,44.8 531.5,44.8 533.0,44.8 534.5,44.8 536.0,44.9 537.5,44.9 539.0,44.9 540.5,45.0 542.0,45.0 543.5,45.1 545.0,45.1 546.5,45.1 548.0,45.2 549.5,45.2 551.0,45.3 552.5,45.3 554.0,45.4 555.5,45.4 557.0,45.5 558.5,45.5 560.0,45.6 561.5,45.6 563.0,45.7 564.5,45.8 566.0,45.8 567.5,45.9 569.0,45.9 570.5,46.0 572.0,46.1 573.5,46.1 575.0,46.2 576.5,46.3 578.0,46.4 579.5,46.4 581.0,46.5 582.5,46.6 584.0,46.7 585.5,46.7 587.0,46.8 588.5,46.9 590.0,47.0 591.5,47.1 593.0,47.2 594.5,47.3 596.0,47.3 597.5,47.4 599.0,47.5 600.5,47.6 602.0,47.7 603.5,47.8 605.0,47.9 606.5,48.0 608.0,48.1 609.5,48.2 611.0,48.3 612.5,48.4 614.0,48.5 615.5,48.7 617.0,48.8 618.5,48.9 620.0,49.0 621.5,49.1 623.0,49.2 624.5,49.3 626.0,49.5 627.5,49.6 629.0,49.7 630.5,49.8 632.0,50.0 633.5,50.1 635.0,50.2 636.5,50.3 638.0,50.5 639.5,50.6 641.0,50.7 642.5,50.9 644.0,51.0 645.5,51.2 647.0,51.3 648.5,51.4 650.0,51.6 651.5,51.7 653.0,51.9 654.5,52.0 656.0,52.2 657.5,52.3 659.0,52.5 660.5,52.6 662.0,52.8 663.5,52.9 665.0,53.1 666.5,53.3 668.0,53.4 669.5,53.6 671.0,53.7 672.5,53.9 674.0,54.1 675.5,54.2 677.0,54.4 678.5,54.6 680.0,54.8 681.5,54.9 683.0,55.1 684.5,55.3 686.0,55.5 687.5,55.6 689.0,55.8 690.5,56.0 692.0,56.2 693.5,56.4 695.0,56.6 696.5,56.8 698.0,57.0 699.5,57.1 701.0,57.3 702.5,57.5 704.0,57.7 705.5,57.9 707.0,58.1 708.5,58.3 710.0,58.5 711.5,58.7 713.0,58.9 714.5,59.2 716.0,59.4 717.5,59.6 719.0,59.8 720.5,60.0 722.0,60.2 723.5,60.4 725.0,60.6 726.5,60.9 728.0,61.1 729.5,61.3 731.0,61.5 732.5,61.8 734.0,62.0 735.5,62.2 737.0,62.4 738.5,62.7 740.0,62.9 741.5,63.1 743.0,63.4 744.5,63.6 746.0,63.9 747.5,64.1 749.0,64.3 750.5,64.6 752.0,64.8 753.5,65.1 755.0,65.3 756.5,65.6 758.0,65.8 759.5,66.1 761.0,66.3 762.5,66.6 764.0,66.8 765.5,67.1 767.0,67.4 768.5,67.6 770.0,67.9 771.5,68.1 773.0,68.4 774.5,68.7 776.0,69.0 777.5,69.2 779.0,69.5 780.5,69.8 782.0,70.0 783.5,70.3 785.0,70.6 786.5,70.9 788.0,71.2 789.5,71.4 791.0,71.7 792.5,72.0 794.0,72.3 795.5,72.6 797.0,72.9 798.5,73.2 800.0,73.5 801.5,73.8 803.0,74.1 804.5,74.4 806.0,74.7 807.5,75.0 809.0,75.3 810.5,75.6 812.0,75.9 813.5,76.2 815.0,76.5 816.5,76.8 818.0,77.1 819.5,77.4 821.0,77.7 822.5,78.0 824.0,78.4 825.5,78.7 827.0,79.0 828.5,79.3 830.0,79.7 831.5,80.0 833.0,80.3 834.5,80.6 836.0,81.0 837.5,81.3 839.0,81.6 840.5,82.0 842.0,82.3 843.5,82.6 845.0,83.0 846.5,83.3 848.0,83.7 849.5,84.0 851.0,84.4 852.5,84.7 854.0,85.0 855.5,85.4 857.0,85.7 858.5,86.1 860.0,86.5 861.5,86.8 863.0,87.2 864.5,87.5 866.0,87.9 867.5,88.3 869.0,88.6 870.5,89.0 872.0,89.3 873.5,89.7 875.0,90.1 876.5,90.5 878.0,90.8 879.5,91.2 881.0,91.6 882.5,92.0 884.0,92.3 885.5,92.7 887.0,93.1 888.5,93.5 890.0,93.9 891.5,94.3 893.0,94.6 894.5,95.0 896.0,95.4 897.5,95.8 899.0,96.2 900.5,96.6 901.2,96.8"/>
</g>
<text x="886" y="88" font-size="15" fill="#e30012">f</text>
<text x="884.5" y="130" font-size="15" fill="#fbba00">e</text>
<text x="884" y="215.2" font-size="15" fill="#e2479a">d</text>
<text x="705.6" y="362.8" font-size="15" fill="#a3191d">a</text>
<text x="793.2" y="363" font-size="15" fill="#8ec751">b</text>
<text x="838.2" y="363" font-size="15" fill="#46bdec">c</text>
<text x="72" y="398.3" font-size="14" fill="#a3191d" stroke="#fff" stroke-width="4.5" paint-order="stroke" stroke-linejoin="round" textLength="99" lengthAdjust="spacingAndGlyphs">TE-polarization</text>
<rect x="51.5" y="456.7" width="10.4" height="10.2" fill="#a3191d"/>
<text x="68.7" y="467" font-size="13" fill="#231f20" textLength="175.9" lengthAdjust="spacingAndGlyphs">a: 1739.1 l/mm (AOI 67.7°)</text>
<rect x="389.0" y="456.6" width="10.4" height="10.2" fill="#8ec751"/>
<text x="406.0" y="467" font-size="13" fill="#231f20" textLength="176.9" lengthAdjust="spacingAndGlyphs">b: 1700.7 l/mm (AOI 64.8°)</text>
<rect x="712.0" y="456.6" width="10.4" height="10.2" fill="#46bdec"/>
<text x="729.3" y="467" font-size="13" fill="#231f20" textLength="174.6" lengthAdjust="spacingAndGlyphs">c: 1600.0 l/mm (AOI 58.3°)</text>
<rect x="51.5" y="487.2" width="10.4" height="10.2" fill="#e2479a"/>
<text x="68.0" y="497.2" font-size="13" fill="#231f20" textLength="176.6" lengthAdjust="spacingAndGlyphs">d: 1379.3 l/mm (AOI 47.2°)</text>
<rect x="389.0" y="487.0" width="10.4" height="10.2" fill="#fbba00"/>
<text x="406.0" y="497.2" font-size="13" fill="#231f20" textLength="176.2" lengthAdjust="spacingAndGlyphs">e: 1200.5 l/mm (AOI 39.7°)</text>
<rect x="712.0" y="487.0" width="10.4" height="10.2" fill="#e30012"/>
<text x="729.0" y="497.2" font-size="13" fill="#231f20" textLength="174.1" lengthAdjust="spacingAndGlyphs">f: 1000.0 l/mm (AOI 32.1°)</text>
</svg>
</body></html>
